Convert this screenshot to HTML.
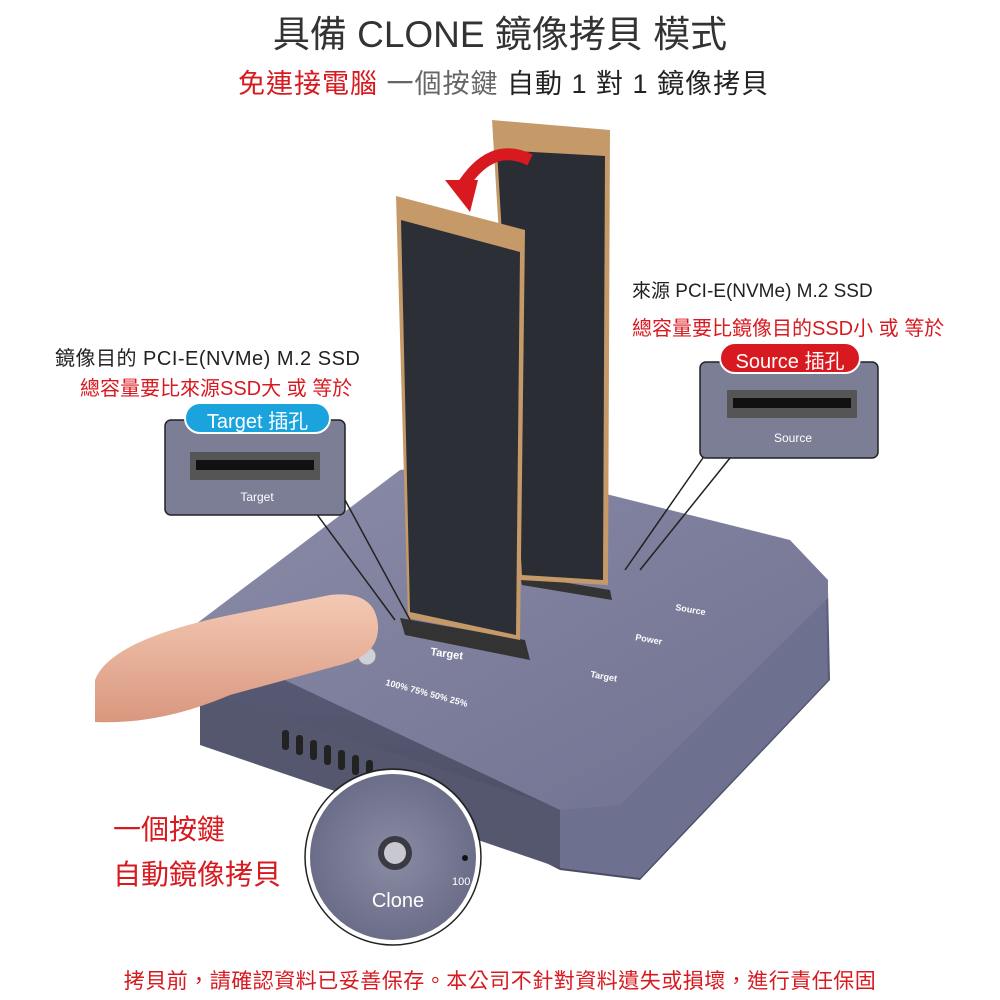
<!DOCTYPE html>
<html><head><meta charset="utf-8"><style>
html,body{margin:0;padding:0;background:#fff;}
body{width:1000px;height:1000px;overflow:hidden;position:relative;font-family:"Liberation Sans","Noto Sans CJK TC",sans-serif;}
.t{position:absolute;white-space:nowrap;}
</style></head><body>
<svg width="1000" height="1000" style="position:absolute;left:0;top:0" xmlns="http://www.w3.org/2000/svg">
<defs>
<linearGradient id="top" x1="0" y1="0" x2="1" y2="1"><stop offset="0" stop-color="#8a8ca8"/><stop offset="1" stop-color="#6f7190"/></linearGradient>
<linearGradient id="front" x1="0" y1="0" x2="0" y2="1"><stop offset="0" stop-color="#5d5f7a"/><stop offset="1" stop-color="#4a4c63"/></linearGradient>
<linearGradient id="skin" x1="0" y1="0" x2="0" y2="1"><stop offset="0" stop-color="#f4c9b4"/><stop offset="1" stop-color="#d9977e"/></linearGradient>
<radialGradient id="mag" cx="0.5" cy="0.5" r="0.5"><stop offset="0" stop-color="#8a8ca6"/><stop offset="1" stop-color="#6b6d88"/></radialGradient>
</defs>
<polygon points="190,640 205,690 560,870 640,880 830,680 828,590 620,800 560,808 200,630" fill="url(#front)"/>
<polygon points="200,745 560,868 560,808 200,690" fill="#55576f"/>
<polygon points="560,868 640,878 828,680 826,592 620,800 560,808" fill="#6e7090"/>
<polygon points="188,630 400,470 470,460 790,540 828,580 828,598 620,805 560,810 200,640" fill="url(#top)"/>
<g fill="#222">
<rect x="282" y="730" width="7" height="20" rx="3"/><rect x="296" y="735" width="7" height="20" rx="3"/><rect x="310" y="740" width="7" height="20" rx="3"/><rect x="324" y="745" width="7" height="20" rx="3"/><rect x="338" y="750" width="7" height="20" rx="3"/><rect x="352" y="755" width="7" height="20" rx="3"/><rect x="366" y="760" width="7" height="20" rx="3"/>
</g>
<polygon points="400,618 525,640 530,660 405,635" fill="#333"/>
<polygon points="520,575 610,590 612,600 522,585" fill="#333"/>
<polygon points="492,120 610,130 608,585 520,580" fill="#c59a68"/>
<polygon points="497,150 605,156 603,580 522,575" fill="#2b2d34"/>
<polygon points="396,196 525,230 520,640 408,618" fill="#c59a68"/>
<polygon points="401,220 520,252 516,635 410,612" fill="#2d2f37"/>
<path d="M530,160 Q490,140 460,190" stroke="#d8191f" stroke-width="12" fill="none"/>
<polygon points="445,180 470,212 478,180" fill="#d8191f"/>
<g font-family="Liberation Sans" font-size="9" fill="#fff" font-weight="bold">
<text x="675" y="610" transform="rotate(10 675 610)">Source</text>
<text x="635" y="640" transform="rotate(10 635 640)">Power</text>
<text x="590" y="677" transform="rotate(10 590 677)">Target</text>
<text x="385" y="685" transform="rotate(15 385 685)">100%  75%  50%  25%</text>
<text x="430" y="655" font-size="11" transform="rotate(8 430 655)">Target</text>
</g>
<circle cx="367" cy="656" r="9" fill="#cfd0d8" stroke="#888"/>
<path d="M95,680 Q110,640 230,615 L330,595 Q375,590 378,625 Q380,655 340,665 L230,695 Q160,725 95,722 Z" fill="url(#skin)"/>
<polyline points="345,500 410,620" stroke="#222" fill="none" stroke-width="1.5"/>
<polyline points="310,505 395,620" stroke="#222" fill="none" stroke-width="1.5"/>
<polyline points="705,455 625,570" stroke="#222" fill="none" stroke-width="1.5"/>
<polyline points="730,458 640,570" stroke="#222" fill="none" stroke-width="1.5"/>
<rect x="165" y="420" width="180" height="95" rx="6" fill="#7b7e95" stroke="#222" stroke-width="1.5"/>
<rect x="190" y="452" width="130" height="28" fill="#555"/>
<rect x="196" y="460" width="118" height="10" fill="#111"/>
<text x="257" y="501" font-size="12" fill="#fff" text-anchor="middle" font-family="Liberation Sans">Target</text>
<rect x="185" y="403" width="145" height="30" rx="15" fill="#1aa3dd" stroke="#fff" stroke-width="2"/>
<rect x="700" y="362" width="178" height="96" rx="6" fill="#7b7e95" stroke="#222" stroke-width="1.5"/>
<rect x="727" y="390" width="130" height="28" fill="#555"/>
<rect x="733" y="398" width="118" height="10" fill="#111"/>
<text x="793" y="442" font-size="12" fill="#fff" text-anchor="middle" font-family="Liberation Sans">Source</text>
<rect x="720" y="343" width="140" height="30" rx="15" fill="#d8191f" stroke="#fff" stroke-width="2"/>
<circle cx="393" cy="857" r="85" fill="url(#mag)" stroke="#fff" stroke-width="4"/>
<circle cx="393" cy="857" r="88" fill="none" stroke="#222" stroke-width="1.5"/>
<circle cx="395" cy="853" r="17" fill="#3a3a44"/>
<circle cx="395" cy="853" r="11" fill="#c8c8d0"/>
<circle cx="465" cy="858" r="3" fill="#111"/>
<text x="398" y="907" font-size="20" fill="#fff" text-anchor="middle" font-family="Liberation Sans">Clone</text>
<text x="452" y="885" font-size="11" fill="#fff" font-family="Liberation Sans">100</text>
</svg>
<div class="t" style="left:0;width:1000px;text-align:center;top:4px;font-size:37px;color:#333;">具備 CLONE 鏡像拷貝 模式</div>
<div class="t" style="left:238px;top:62px;font-size:27px;letter-spacing:1px;"><span style="color:#d8191f">免連接電腦</span> <span style="color:#666">一個按鍵</span> <span style="color:#222">自動 1 對 1 鏡像拷貝</span></div>
<div class="t" style="left:55px;top:342px;font-size:20px;color:#222;letter-spacing:0.5px;">鏡像目的 PCI-E(NVMe) M.2 SSD</div>
<div class="t" style="left:80px;top:372px;font-size:20px;color:#d8191f;">總容量要比來源SSD大 或 等於</div>
<div class="t" style="left:632px;top:276px;font-size:19px;color:#222;">來源 PCI-E(NVMe) M.2 SSD</div>
<div class="t" style="left:632px;top:312px;font-size:20px;color:#d8191f;">總容量要比鏡像目的SSD小 或 等於</div>
<div class="t" style="left:185px;top:405px;width:145px;text-align:center;font-size:20px;color:#fff;">Target 插孔</div>
<div class="t" style="left:720px;top:345px;width:140px;text-align:center;font-size:20px;color:#fff;">Source 插孔</div>
<div class="t" style="left:113px;top:808px;font-size:28px;color:#d8191f;">一個按鍵</div>
<div class="t" style="left:113px;top:853px;font-size:28px;color:#d8191f;">自動鏡像拷貝</div>
<div class="t" style="left:0;width:1000px;text-align:center;top:965px;font-size:21px;color:#d8191f;letter-spacing:0.5px;">拷貝前，請確認資料已妥善保存。本公司不針對資料遺失或損壞，進行責任保固</div>
</body></html>
